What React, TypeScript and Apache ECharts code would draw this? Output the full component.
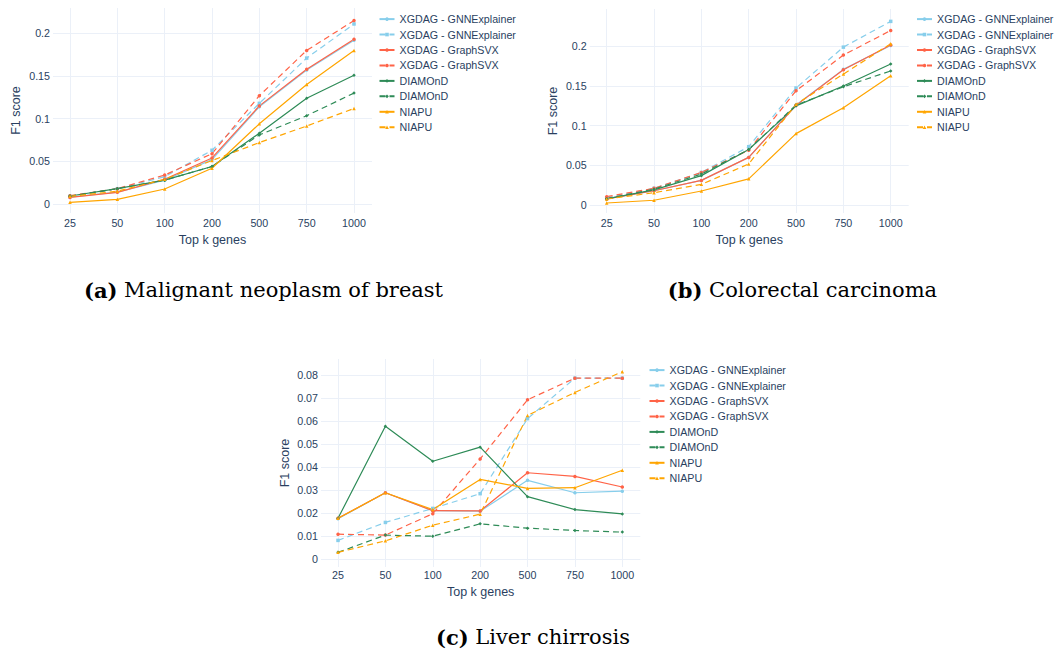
import React, { useEffect, useRef } from 'react';
import * as echarts from 'echarts';

// ---------- data ----------
const categories = ['25', '50', '100', '200', '500', '750', '1000'];
const seriesLabels = [
  'XGDAG - GNNExplainer',
  'XGDAG - GNNExplainer',
  'XGDAG - GraphSVX',
  'XGDAG - GraphSVX',
  'DIAMOnD',
  'DIAMOnD',
  'NIAPU',
  'NIAPU',
];

// (a) Malignant neoplasm of breast
const gnnSolidA = [0.008, 0.014, 0.028, 0.052, 0.114, 0.157, 0.192];
const gnnDashA = [0.009, 0.018, 0.032, 0.063, 0.118, 0.171, 0.211];
const svxSolidA = [0.0078, 0.0137, 0.029, 0.054, 0.115, 0.158, 0.193];
const svxDashA = [0.0098, 0.018, 0.034, 0.059, 0.127, 0.18, 0.215];
const diaSolidA = [0.0094, 0.018, 0.028, 0.044, 0.083, 0.124, 0.151];
const diaDashA = [0.009, 0.018, 0.028, 0.044, 0.081, 0.1035, 0.13];
const niaSolidA = [0.002, 0.0055, 0.0176, 0.042, 0.094, 0.14, 0.18];
const niaDashA = [0.009, 0.015, 0.029, 0.051, 0.072, 0.0914, 0.112];

// (b) Colorectal carcinoma
const gnnSolidB = [0.008, 0.018, 0.031, 0.06, 0.126, 0.171, 0.201];
const gnnDashB = [0.009, 0.021, 0.041, 0.0735, 0.1475, 0.199, 0.2315];
const svxSolidB = [0.0076, 0.018, 0.031, 0.06, 0.1256, 0.1706, 0.2017];
const svxDashB = [0.0105, 0.021, 0.041, 0.069, 0.144, 0.189, 0.22];
const diaSolidB = [0.0076, 0.019, 0.037, 0.07, 0.125, 0.15, 0.1777];
const diaDashB = [0.008, 0.02, 0.039, 0.07, 0.126, 0.149, 0.169];
const niaSolidB = [0.0025, 0.006, 0.0176, 0.033, 0.09, 0.1227, 0.163];
const niaDashB = [0.0075, 0.0155, 0.026, 0.0517, 0.127, 0.165, 0.2034];

// (c) Liver chirrosis
const gnnSolidC = [0.0175, 0.0288, 0.021, 0.0208, 0.0342, 0.0288, 0.0295];
const gnnDashC = [0.0081, 0.0159, 0.022, 0.0284, 0.061, 0.0786, 0.0786];
const svxSolidC = [0.0177, 0.0288, 0.021, 0.0209, 0.0375, 0.0359, 0.0313];
const svxDashC = [0.0108, 0.0104, 0.0197, 0.0435, 0.0692, 0.0786, 0.0786];
const diaSolidC = [0.0177, 0.0577, 0.0425, 0.0486, 0.0271, 0.0215, 0.0196];
const diaDashC = [0.0029, 0.0104, 0.0099, 0.0153, 0.0134, 0.0124, 0.0117];
const niaSolidC = [0.0177, 0.0288, 0.0215, 0.0346, 0.0307, 0.031, 0.0386];
const niaDashC = [0.0029, 0.0079, 0.0147, 0.0195, 0.0624, 0.0724, 0.0814];

const captionLetters = ['(a)', '(b)', '(c)'];
const captionTitles = ['Malignant neoplasm of breast', 'Colorectal carcinoma', 'Liver chirrosis'];
const yStepsPerPanel = [0.05, 0.05, 0.01];
const xAxisTitle = 'Top k genes';
const yAxisTitle = 'F1 score';

// ---------- styles / layout ----------
const FONT = '"Liberation Sans", Arial, Helvetica, sans-serif';
const SERIF = '"DejaVu Serif", "Liberation Serif", serif';
const TXT = '#2a3f5f';
const GRIDC = '#EBF0F8';
const colors = ['#87CEEB', '#87CEEB', '#FF6347', '#FF6347', '#2E8B57', '#2E8B57', '#FFA500', '#FFA500'];
const dashed = [false, true, false, true, false, true, false, true];
const symbols = ['circle', 'rect', 'circle', 'circle', 'diamond', 'diamond', 'triangle', 'triangle'];

const layouts = [
  {
    grid: { left: 53, top: 8, width: 319, height: 205 },
    xMin: -0.359, xMax: 6.38, yMin: -0.0105, yMax: 0.2297,
    xLabelMargin: 4.5, xNameGap: 20.5, yNameGap: 30.5,
    legend: { left: 378.5, top: 13.6 },
    caption: [263.5, 290],
  },
  {
    grid: { left: 589.7, top: 9, width: 319, height: 204 },
    xMin: -0.359, xMax: 6.38, yMin: -0.0101, yMax: 0.2471,
    xLabelMargin: 4.5, xNameGap: 20.5, yNameGap: 30,
    legend: { left: 916, top: 13.6 },
    caption: [802.5, 290],
  },
  {
    grid: { left: 321, top: 359, width: 319.3, height: 208 },
    xMin: -0.359, xMax: 6.38, yMin: -0.00346, yMax: 0.08692,
    xLabelMargin: 2, xNameGap: 18.5, yNameGap: 29.5,
    legend: { left: 648.5, top: 364.6 },
    caption: [533, 637],
  },
];

const panelValues = [
  [gnnSolidA, gnnDashA, svxSolidA, svxDashA, diaSolidA, diaDashA, niaSolidA, niaDashA],
  [gnnSolidB, gnnDashB, svxSolidB, svxDashB, diaSolidB, diaDashB, niaSolidB, niaDashB],
  [gnnSolidC, gnnDashC, svxSolidC, svxDashC, diaSolidC, diaDashC, niaSolidC, niaDashC],
];

function buildOption() {
  const grids: any[] = [];
  const xAxes: any[] = [];
  const yAxes: any[] = [];
  const series: any[] = [];
  const legends: any[] = [];
  const graphics: any[] = [];
  const nameMap: Record<string, string> = {};

  panelValues.forEach((vals, p) => {
    const L = layouts[p];
    const step = yStepsPerPanel[p];
    grids.push({ ...L.grid, containLabel: false });
    xAxes.push({
      type: 'value',
      gridIndex: p,
      min: L.xMin,
      max: L.xMax,
      minInterval: 1,
      maxInterval: 1,
      name: xAxisTitle,
      nameLocation: 'middle',
      nameGap: L.xNameGap,
      nameTextStyle: { fontFamily: FONT, fontSize: 12.5, color: TXT },
      axisLine: { show: false },
      axisTick: { show: false },
      axisLabel: {
        margin: L.xLabelMargin,
        fontFamily: FONT,
        fontSize: 10.7,
        color: TXT,
        formatter: (v: number) => {
          const r = Math.round(v);
          if (Math.abs(v - r) > 1e-6 || r < 0 || r >= categories.length) return '';
          return categories[r];
        },
      },
      splitLine: { show: true, showMinLine: false, showMaxLine: false, lineStyle: { color: GRIDC, width: 1 } },
    });
    yAxes.push({
      type: 'value',
      gridIndex: p,
      min: L.yMin,
      max: L.yMax,
      minInterval: step,
      maxInterval: step,
      name: yAxisTitle,
      nameLocation: 'middle',
      nameGap: L.yNameGap,
      nameRotate: 90,
      nameTextStyle: { fontFamily: FONT, fontSize: 12.5, color: TXT },
      axisLine: { show: false },
      axisTick: { show: false },
      axisLabel: {
        margin: 3,
        fontFamily: FONT,
        fontSize: 10.7,
        color: TXT,
        formatter: (v: number) => {
          const r = Math.round(v / step);
          if (Math.abs(v - r * step) > step * 1e-4) return '';
          return String(+(r * step).toFixed(4));
        },
      },
      splitLine: { show: true, showMinLine: false, showMaxLine: false, lineStyle: { color: GRIDC, width: 1 } },
    });

    const names: string[] = [];
    vals.forEach((arr, i) => {
      const nm = `${p}|${i}`;
      nameMap[nm] = seriesLabels[i];
      names.push(nm);
      series.push({
        type: 'line',
        name: nm,
        xAxisIndex: p,
        yAxisIndex: p,
        data: arr.map((v, k) => [k, v]),
        symbol: symbols[i],
        symbolSize: 3.5,
        showSymbol: true,
        color: colors[i],
        itemStyle: { color: colors[i] },
        lineStyle: { color: colors[i], width: 1.2, type: dashed[i] ? [6, 4] : 'solid' },
        emphasis: { disabled: true },
      });
    });

    legends.push({
      orient: 'vertical',
      left: L.legend.left,
      top: L.legend.top,
      padding: 0,
      itemWidth: 15,
      itemHeight: 4.5,
      itemGap: 4.45,
      data: names,
      formatter: (n: string) => nameMap[n],
      textStyle: { fontFamily: FONT, fontSize: 10.7, color: TXT },
      selectedMode: false,
    });

    graphics.push({
      type: 'text',
      x: L.caption[0],
      y: L.caption[1],
      style: {
        text: `{b|${captionLetters[p]}} ${captionTitles[p]}`,
        rich: {
          b: { fontFamily: SERIF, fontWeight: 'bold', fontSize: 21, fill: '#000' },
        },
        fontFamily: SERIF,
        fontSize: 21,
        fill: '#000',
        align: 'center',
        verticalAlign: 'middle',
        textAlign: 'center',
        textVerticalAlign: 'middle',
      },
    });
  });

  return {
    animation: false,
    backgroundColor: '#ffffff',
    grid: grids,
    xAxis: xAxes,
    yAxis: yAxes,
    legend: legends,
    series,
    graphic: graphics,
  };
}

export default function App() {
  const ref = useRef<HTMLDivElement>(null);
  useEffect(() => {
    if (!ref.current) return;
    const chart = echarts.init(ref.current, undefined, { renderer: 'svg' });
    chart.setOption(buildOption() as any);
    return () => chart.dispose();
  }, []);
  return (
    <div
      ref={ref}
      style={{ position: 'fixed', left: 0, top: 0, width: 1055, height: 655, background: '#fff' }}
    />
  );
}
